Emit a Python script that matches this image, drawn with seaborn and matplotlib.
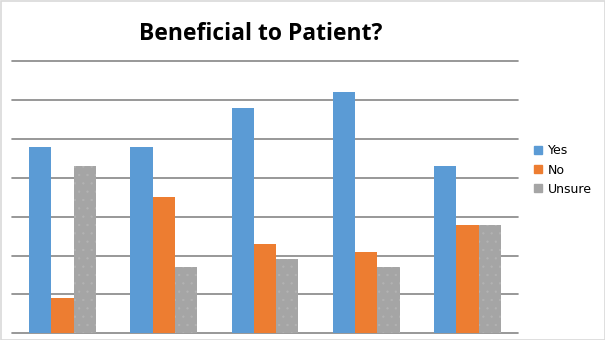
import matplotlib
matplotlib.use("Agg")
import matplotlib.pyplot as plt
import seaborn as sns
import pandas as pd
from matplotlib.patches import Rectangle

groups = ["1", "2", "3", "4", "5"]
yes = [48, 48, 58, 62, 43]
no = [9, 35, 23, 21, 28]
unsure = [43, 17, 19, 17, 28]
series = ["Yes", "No", "Unsure"]
colors = ["#5B9BD5", "#ED7D31", "#A5A5A5"]

rows = []
for name, vals in zip(series, [yes, no, unsure]):
    for g, v in zip(groups, vals):
        rows.append({"Group": g, "Response": name, "Value": v})
df = pd.DataFrame(rows)

sns.set_style("white")
plt.rcParams["text.color"] = "black"
plt.rcParams["hatch.linewidth"] = 0.4
fig = plt.figure(figsize=(6.05, 3.4), dpi=100)
ax = fig.add_axes([12/605, (340-333.3)/340, 506/605, (333.3-61.3)/340])

sns.barplot(data=df, x="Group", y="Value", hue="Response", palette=colors,
            width=0.66, ax=ax, errorbar=None, saturation=1, legend=False,
            linewidth=0, edgecolor="none", zorder=3)

# subtle dotted texture on Unsure bars
for bar in ax.containers[2]:
    bar.set_hatch("..")
    bar.set_edgecolor("#b3b3b3")
    bar.set_linewidth(0)

ax.set_ylim(0, 70)
ax.set_yticks(range(0, 71, 10))
ax.set_xlabel("")
ax.set_ylabel("")
ax.set_xticklabels([])
ax.set_yticklabels([])
ax.tick_params(length=0)
for s in ax.spines.values():
    s.set_visible(False)
ax.yaxis.grid(True, color="#868686", linewidth=1.2, zorder=0)
ax.set_axisbelow(True)
for gl in ax.get_ygridlines():
    gl.set_clip_on(False)

fig.text(261/605, 1 - 33.5/340, "Beneficial to Patient?", ha="center", va="center",
         fontsize=16.5, fontweight="bold", color="black",
         family=["Open Sans", "DejaVu Sans"])

handles = [Rectangle((0, 0), 1, 1, color=c) for c in colors]
leg = fig.legend(handles, series, loc="center left", bbox_to_anchor=(534/605, 1 - 170/340),
                 frameon=False, fontsize=9, handlelength=0.6, handleheight=0.6,
                 handletextpad=0.5, labelspacing=0.5, borderpad=0, borderaxespad=0)
for t in leg.get_texts():
    t.set_color("black")

fig.patches.append(Rectangle((0.5/605, 0.5/340), 1 - 1/605, 1 - 1/340,
                             transform=fig.transFigure, fill=False,
                             edgecolor="#d9d9d9", linewidth=1.2))

fig.savefig("out.png", dpi=100)
